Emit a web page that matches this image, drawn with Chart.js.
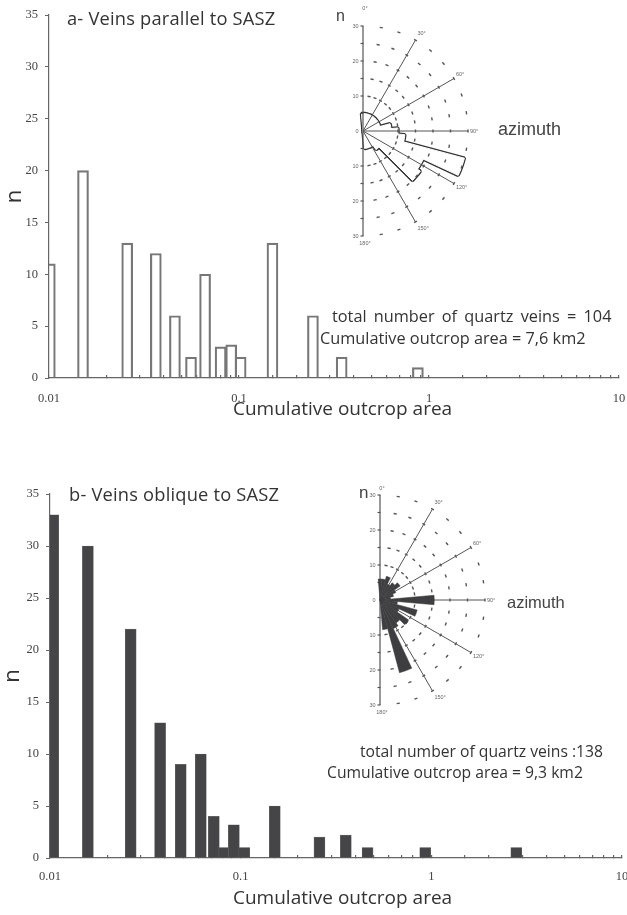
<!DOCTYPE html>
<html>
<head>
<meta charset="utf-8">
<script src="https://cdn.jsdelivr.net/npm/chart.js@4.4.1/dist/chart.umd.min.js"></script>
<style>
  html, body { margin: 0; padding: 0; background: #fff; }
  #page { position: relative; width: 627px; height: 915px; overflow: hidden; color: #333; }
  canvas { position: absolute; }
  .txt { position: absolute; white-space: nowrap; line-height: 1; font-family: 'Open Sans', sans-serif; }
  .lbl { position: absolute; white-space: nowrap; line-height: 1; font-family: 'Liberation Sans', sans-serif; color: #444; }
</style>
</head>
<body>
<div id="page">
  <canvas id="histA" style="left:0;top:0"></canvas>
  <canvas id="histB" style="left:0;top:430px"></canvas>
  <canvas id="roseA" style="left:233px;top:1px"></canvas>
  <canvas id="roseB" style="left:250px;top:470px"></canvas>

  <div class="txt" style="left:67px;top:8.7px;font-size:18.3px;letter-spacing:0.2px">a- Veins parallel to SASZ</div>
  <div class="txt" style="left:332px;top:307.5px;font-size:16.3px;word-spacing:3px">total number of quartz veins = 104</div>
  <div class="txt" style="left:320px;top:329.5px;font-size:16.3px">Cumulative outcrop area = 7,6 km2</div>
  <div class="lbl" style="left:336px;top:8px;font-size:16px">n</div>
  <div class="lbl" style="left:498px;top:120px;font-size:18px">azimuth</div>
  <div class="txt" style="left:233px;top:399px;font-size:19px">Cumulative outcrop area</div>

  <div class="txt" style="left:69px;top:484.7px;font-size:18.3px;letter-spacing:0.2px">b- Veins oblique to SASZ</div>
  <div class="txt" style="left:360px;top:744px;font-size:15.7px">total number of quartz veins :138</div>
  <div class="txt" style="left:327px;top:765px;font-size:15.7px">Cumulative outcrop area = 9,3 km2</div>
  <div class="lbl" style="left:359px;top:484px;font-size:17px">n</div>
  <div class="lbl" style="left:507px;top:594px;font-size:16.5px">azimuth</div>
  <div class="txt" style="left:233px;top:888px;font-size:19px">Cumulative outcrop area</div>
</div>
<script>
// ---- histogram a : veins parallel to SASZ ----
const areaA  = [0.0101, 0.0151, 0.0258, 0.0365, 0.046, 0.0559, 0.0663, 0.080, 0.091, 0.102, 0.150, 0.245, 0.347, 0.874];
const countA = [11, 20, 13, 12, 6, 2, 10, 3, 3.2, 2, 13, 6, 2, 1];

// ---- histogram b : veins oblique to SASZ ----
const areaB  = [0.0104, 0.0158, 0.0265, 0.0378, 0.0485, 0.0618, 0.0723, 0.0821, 0.0921, 0.1045, 0.151, 0.259, 0.356, 0.463, 0.929, 2.79];
const countB = [33, 30, 22, 13, 9, 10, 4, 1, 3.2, 1, 5, 2, 2.2, 1, 1, 1];

// axis ticks
const yTicks = [0, 5, 10, 15, 20, 25, 30, 35];
const xDecades = [0.01, 0.1, 1, 10];

// ---- rose diagrams (10 degree bins centred on 0..170) ----
const roseBins = ['0', '10', '20', '30', '40', '50', '60', '70', '80', '90', '100', '110', '120', '130', '140', '150', '160', '170'];
const roseA = [5, 5, 5, 5, 5, 5, 5, 5, 8, 10, 12, 30, 19, 20, 6.5, 5, 5, 5];
const roseB = [6, 6, 7, 5, 6, 7, 5, 4, 3, 15.5, 5, 11, 6, 10, 8, 9, 21.5, 8.5];
const roseRings = [10, 15, 20, 25, 30];
const roseSpokes = [30, 60, 90, 120, 150];
const roseAxisLabels = [30, 20, 10, 0];

Chart.defaults.font.family = "'Liberation Serif', serif";
Chart.defaults.color = '#444';
Chart.defaults.animation = false;

function histogram(id, w, h, area, count, geom, barStyle) {
  const el = document.getElementById(id);
  el.width = w; el.height = h;
  el.style.width = w + 'px'; el.style.height = h + 'px';
  return new Chart(el, {
    type: 'bar',
    data: {
      datasets: [Object.assign({
        data: area.map((a, i) => ({ x: a, y: count[i] })),
        barThickness: 11
      }, barStyle)]
    },
    options: {
      responsive: false,
      devicePixelRatio: 1,
      layout: { padding: { left: 0, right: geom.right, top: geom.top, bottom: 0 } },
      plugins: { legend: { display: false }, tooltip: { enabled: false } },
      scales: {
        x: {
          type: 'logarithmic',
          min: 0.01, max: 10,
          offset: false,
          afterFit: s => { s.height = geom.xh; s.paddingLeft = 0; s.paddingRight = 0; },
          border: { color: '#666', width: 1.2 },
          grid: { display: true, offset: false, drawOnChartArea: false, drawTicks: true, tickLength: -3, color: '#666', lineWidth: 1.2 },
          ticks: {
            autoSkip: false, maxRotation: 0, padding: geom.tickPad,
            font: { size: 12.5 }, color: '#444',
            callback: v => xDecades.some(d => Math.abs(Math.log10(v) - Math.log10(d)) < 1e-6) ? String(v) : ''
          }
        },
        y: {
          min: 0, max: 35,
          afterFit: s => { s.width = geom.yw; },
          afterBuildTicks: s => { s.ticks = yTicks.map(v => ({ value: v })); },
          border: { color: '#666', width: 1.2 },
          grid: { display: true, drawOnChartArea: false, drawTicks: true, tickLength: 4, color: '#666' },
          ticks: { padding: 7, font: { size: 12.5 }, color: '#444' },
          title: { display: true, text: 'n', color: '#333',
                   font: { family: "'Open Sans', sans-serif", size: 22 }, padding: { top: geom.nPad, bottom: 0 } }
        }
      }
    }
  });
}

histogram('histA', 627, 430, areaA, countA,
  { right: 8, top: 15, xh: 52, yw: 49, tickPad: 16, nPad: 2 },
  { backgroundColor: 'rgba(0,0,0,0)', borderColor: '#777', borderWidth: 1.5 });

histogram('histB', 627, 485, areaB, countB,
  { right: 5, top: 64, xh: 57, yw: 50, tickPad: 14, nPad: 0 },
  { backgroundColor: '#454547', borderColor: '#6a6a6a', borderWidth: 0.6 });

// grid of the half rose: 0-180 axis, spokes, dotted rings
function drawRoseGrid(chart, o) {
  const r = chart.scales.r;
  const cx = r.xCenter, cy = r.yCenter;
  const d = v => r.getDistanceFromCenterForValue(v);
  const R = d(30);
  const ctx = chart.ctx;
  const pt = (deg, rho) => {
    const phi = (deg - 90) * Math.PI / 180;
    return [cx + rho * Math.cos(phi), cy + rho * Math.sin(phi)];
  };
  const line = (x1, y1, x2, y2) => { ctx.beginPath(); ctx.moveTo(x1, y1); ctx.lineTo(x2, y2); ctx.stroke(); };
  ctx.save();
  ctx.strokeStyle = '#555';
  ctx.lineWidth = 1.2;
  line(cx, cy - R, cx, cy + R);
  for (let v = 5; v <= 30; v += 5) {
    line(cx - 2.5, cy - d(v), cx + 0.5, cy - d(v));
    line(cx - 2.5, cy + d(v), cx + 0.5, cy + d(v));
  }
  ctx.lineWidth = 1;
  roseSpokes.forEach(a => {
    const [x, y] = pt(a, R);
    line(cx, cy, x, y);
  });
  ctx.lineWidth = 1.4;
  roseRings.forEach(v => {
    const rho = d(v), half = 1.6 / rho;
    for (let a = 10; a <= 170; a += 10) {
      const phi = (a - 90) * Math.PI / 180;
      ctx.beginPath(); ctx.arc(cx, cy, rho, phi - half, phi + half); ctx.stroke();
    }
  });
  ctx.fillStyle = '#666';
  ctx.font = "5.5px 'Liberation Sans', sans-serif";
  ctx.textBaseline = 'middle';
  ctx.textAlign = 'right';
  roseAxisLabels.forEach(v => {
    ctx.fillText(String(v), cx - 4.5, cy - d(v));
    if (v) ctx.fillText(String(v), cx - 4.5, cy + d(v));
  });
  ctx.textAlign = 'left';
  roseSpokes.forEach(a => {
    const [x, y] = pt(a, R);
    ctx.fillText(a + '\u00b0', x + 2, y - 8 * Math.cos(a * Math.PI / 180));
  });
  ctx.textAlign = 'center';
  ctx.fillText('0\u00b0', cx + 2, cy - R - o.zeroGap);
  ctx.fillText('180\u00b0', cx + 2, cy + R + 7);
  ctx.restore();
}

const roseGrid = {
  id: 'roseGrid',
  beforeDatasetsDraw(chart, args, o) { if (!o.over) drawRoseGrid(chart, o); },
  afterDatasetsDraw(chart, args, o) { if (o.over) drawRoseGrid(chart, o); }
};

function rose(id, datasets, gridOpts) {
  const el = document.getElementById(id);
  el.width = 260; el.height = 260;
  el.style.width = '260px'; el.style.height = '260px';
  return new Chart(el, {
    type: 'polarArea',
    data: { labels: roseBins, datasets },
    plugins: [roseGrid],
    options: {
      responsive: false,
      devicePixelRatio: 1,
      layout: { padding: 25 },
      plugins: { legend: { display: false }, tooltip: { enabled: false }, roseGrid: gridOpts },
      scales: {
        r: {
          min: 0, max: 30, startAngle: -5,
          grid: { display: false }, angleLines: { display: false },
          ticks: { display: false }, pointLabels: { display: false }
        }
      }
    }
  });
}

// outlined petals: white fill on top hides the inner half of the dark border
rose('roseA', [
  { data: roseA, angle: 10, backgroundColor: '#fff', borderColor: '#fff', borderWidth: 1 },
  { data: roseA, angle: 10, backgroundColor: 'rgba(0,0,0,0)', borderColor: '#333', borderWidth: 3.4 }
], { over: true, zeroGap: 18 });

rose('roseB', [
  { data: roseB, angle: 10, backgroundColor: '#3e3e40', borderColor: '#3e3e40', borderWidth: 0.5 }
], { over: false, zeroGap: 7 });
</script>
</body>
</html>
